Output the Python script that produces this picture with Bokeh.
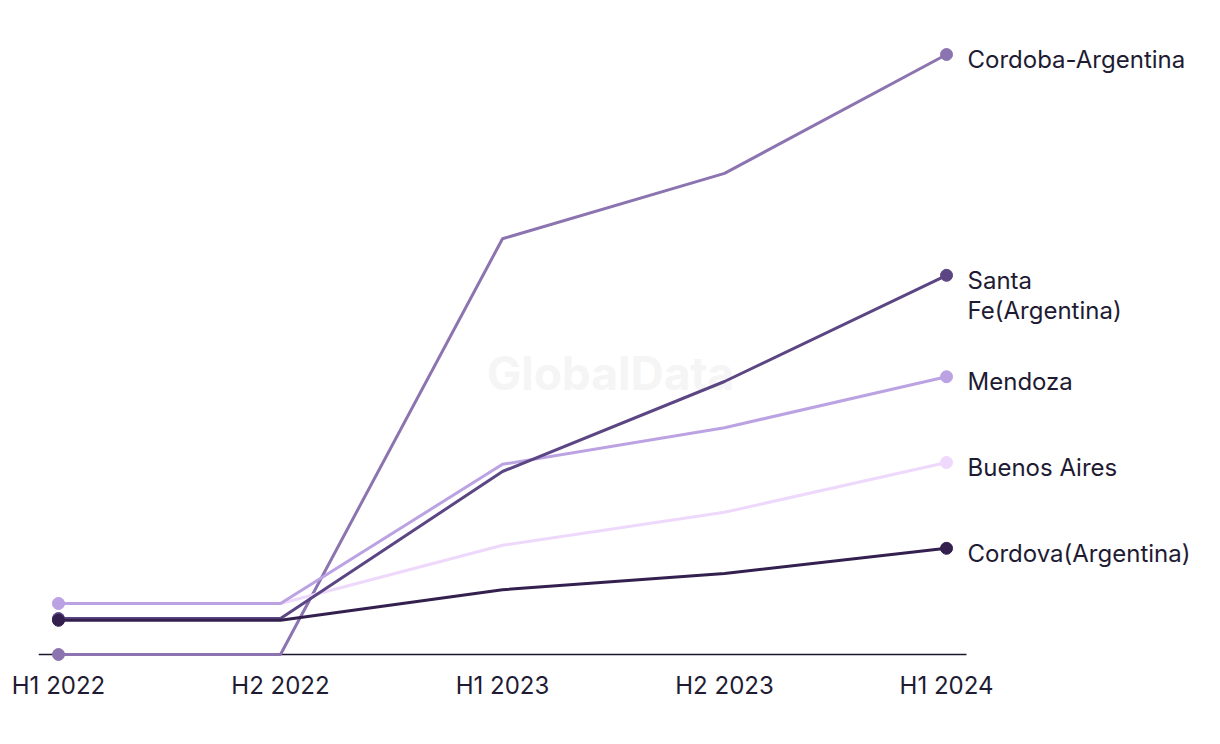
from bokeh.plotting import figure
from bokeh.models import Range1d
from bokeh.core.properties import value
from bokeh.embed import file_html
from bokeh.resources import INLINE

# ---- data ----
periods = ["H1 2022", "H2 2022", "H1 2023", "H2 2023", "H1 2024"]
series_names = ["Cordoba-Argentina", "Buenos Aires", "Mendoza", "Santa Fe(Argentina)", "Cordova(Argentina)"]
label_texts = ["Cordoba-Argentina", "Buenos Aires", "Mendoza", "Santa\nFe(Argentina)", "Cordova(Argentina)"]
cordoba_argentina = [0.0, 0.0, 69.3, 80.2, 100.0]
buenos_aires = [8.5, 8.5, 18.2, 23.7, 32.0]
mendoza = [8.5, 8.5, 31.7, 37.8, 46.3]
santa_fe = [6.0, 6.0, 30.5, 45.5, 63.2]
cordova = [5.7, 5.7, 10.8, 13.5, 17.7]
series_values = [cordoba_argentina, buenos_aires, mendoza, santa_fe, cordova]
colors = ["#8C74B1", "#EED8FB", "#BBA3E3", "#5B4683", "#33204F"]

FONT = "Inter"
TEXT_COLOR = "#1E1B33"

xs = list(range(len(periods)))
x_pad = 0.09

p = figure(width=1212, height=714, output_backend="svg", toolbar_location=None,
           x_range=Range1d(-x_pad, 5.198), y_range=Range1d(-1.667, 105.67),
           min_border_left=38, min_border_right=0, min_border_top=20, min_border_bottom=50)
p.outline_line_color = None
p.grid.visible = False
p.yaxis.visible = False
p.background_fill_color = "white"

# watermark
p.text(x=[2.486], y=[47.0], text=["GlobalData"], text_font=value(FONT), text_font_style="bold",
       text_font_size="46px", text_color="#F5F5F5", text_align="center", text_baseline="middle")

# baseline
p.segment(x0=[-x_pad], y0=[0], x1=[xs[-1] + x_pad], y1=[0], line_color="#1B1530", line_width=1.5)

for name, label, vals, col in zip(series_names, label_texts, series_values, colors):
    p.line(xs, vals, line_color=col, line_width=3)
    p.scatter([xs[0], xs[-1]], [vals[0], vals[-1]], size=12, fill_color=col, line_color=col)
    nlines = label.count("\n") + 1
    p.text(x=[xs[-1]], y=[vals[-1]], text=[label], text_font=value(FONT), text_font_size="24px",
           text_color=TEXT_COLOR, text_align="left", text_baseline="middle",
           x_offset=21, y_offset=5 + (nlines - 1) * 15, text_line_height=1.05)

ax = p.xaxis[0]
ax.ticker = xs
ax.major_label_overrides = {i: lab for i, lab in enumerate(periods)}
ax.axis_line_color = None
ax.major_tick_line_color = None
ax.minor_tick_line_color = None
ax.major_label_text_font = FONT
ax.major_label_text_font_size = "24px"
ax.major_label_text_color = TEXT_COLOR
ax.major_label_standoff = 0

open("out.html", "w").write(file_html(p, INLINE))
